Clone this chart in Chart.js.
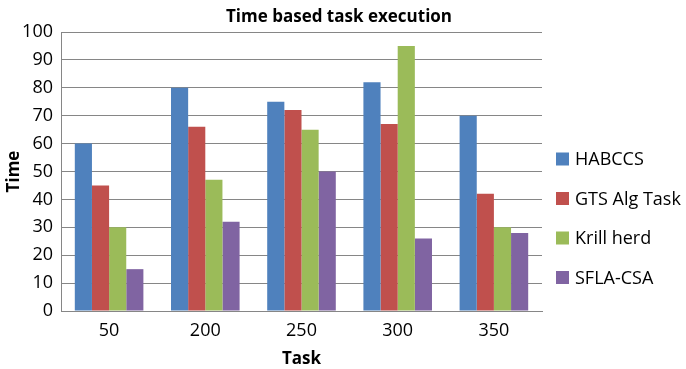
<!DOCTYPE html>
<html>
<head>
<meta charset="utf-8">
<script src="https://cdn.jsdelivr.net/npm/chart.js@4.4.1/dist/chart.umd.min.js"></script>
<style>
  html, body { margin: 0; padding: 0; background: #ffffff; }
  #wrap { width: 686px; height: 369px; position: relative; }
</style>
</head>
<body>
<div id="wrap"><canvas id="chart" width="686" height="369"></canvas></div>
<script>
// Task counts on the x axis
const tasks = ['50', '200', '250', '300', '350'];

// Execution time per algorithm
const habccs     = [60, 80, 75, 82, 70];
const gtsAlgTask = [45, 66, 72, 67, 42];
const krillHerd  = [30, 47, 65, 95, 30];
const sflaCsa    = [15, 32, 50, 26, 28];

const seriesNames  = ['HABCCS', 'GTS Alg Task', 'Krill herd', 'SFLA-CSA'];
const seriesValues = [habccs, gtsAlgTask, krillHerd, sflaCsa];
const seriesColors = ['#4F81BD', '#C0504D', '#9BBB59', '#8064A2'];

const FONT = "'Open Sans', 'Liberation Sans', sans-serif";

// Legend column drawn to the right of the plot area
const sideLegend = {
  id: 'sideLegend',
  afterDraw(chart) {
    const ctx = chart.ctx;
    const area = chart.chartArea;
    const boxX = area.right + 14;
    const box = 13;
    const step = 39.5;
    const firstY = 159;
    ctx.save();
    ctx.font = '18px ' + FONT;
    ctx.textBaseline = 'middle';
    ctx.textAlign = 'left';
    chart.data.datasets.forEach((ds, i) => {
      const cy = firstY + i * step;
      ctx.fillStyle = ds.backgroundColor;
      ctx.fillRect(boxX, cy - box / 2, box, box);
      ctx.fillStyle = '#000000';
      ctx.fillText(ds.label, boxX + box + 6, cy + 1);
    });
    ctx.restore();
  }
};

new Chart(document.getElementById('chart'), {
  type: 'bar',
  data: {
    labels: tasks,
    datasets: seriesNames.map((name, i) => ({
      label: name,
      data: seriesValues[i],
      backgroundColor: seriesColors[i],
      borderWidth: 0,
      barPercentage: 1.0,
      categoryPercentage: 0.713
    }))
  },
  plugins: [sideLegend],
  options: {
    responsive: false,
    animation: false,
    layout: { padding: { left: 4, right: 12, top: 7, bottom: 0 } },
    plugins: {
      title: {
        display: true,
        text: 'Time based task execution',
        color: '#000000',
        font: { family: FONT, size: 17, weight: 'bold' },
        padding: { top: 0, bottom: 4.6 }
      },
      legend: { display: false },
      tooltip: { enabled: false }
    },
    scales: {
      x: {
        grid: { display: false, drawTicks: false },
        border: { display: true, color: '#868686', width: 1 },
        ticks: {
          color: '#000000',
          font: { family: FONT, size: 18 },
          padding: 9
        },
        title: {
          display: true,
          text: 'Task',
          color: '#000000',
          font: { family: FONT, size: 17, weight: 'bold' },
          padding: { top: 7, bottom: 0 }
        },
        afterFit(scale) { scale.height = 58; }
      },
      y: {
        min: 0,
        max: 100,
        ticks: {
          stepSize: 10,
          color: '#000000',
          font: { family: FONT, size: 18 },
          padding: 8
        },
        grid: { color: '#868686', lineWidth: 1, drawTicks: false },
        border: { display: true, color: '#868686', width: 1 },
        title: {
          display: true,
          text: 'Time',
          color: '#000000',
          font: { family: FONT, size: 17, weight: 'bold' },
          padding: { top: 0, bottom: 0 }
        },
        afterFit(scale) { scale.width = 57; }
      },
      // empty column on the right that holds the legend
      legendSpace: {
        position: 'right',
        display: true,
        grid: { display: false, drawTicks: false },
        border: { display: false },
        ticks: { display: false },
        afterFit(scale) { scale.width = 132; }
      }
    }
  }
});
</script>
</body>
</html>
